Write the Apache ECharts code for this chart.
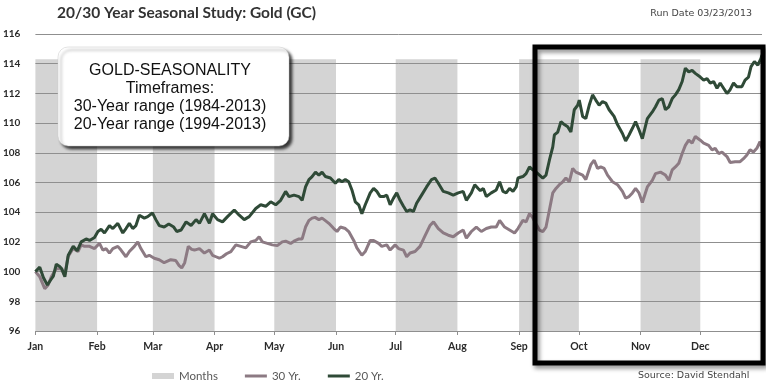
<!DOCTYPE html>
<html><head><meta charset="utf-8">
<script src="https://cdn.jsdelivr.net/npm/echarts@6/dist/echarts.min.js"></script>
<style>html,body{margin:0;padding:0;background:#fff}#c{width:766px;height:384px}</style>
</head><body><div id="c"></div>
<script>
const titleText = '20/30 Year Seasonal Study: Gold (GC)';
const runDateText = 'Run Date 03/23/2013';
const sourceText = 'Source: David Stendahl';
const boxLines = ['GOLD-SEASONALITY', 'Timeframes:', '30-Year range (1984-2013)', '20-Year range (1994-2013)'];
const monthNames = ['Jan','Feb','Mar','Apr','May','Jun','Jul','Aug','Sep','Oct','Nov','Dec'];
const monthStarts = [0,31,59,90,120,151,181,212,243,273,304,334];
const shadedMonths = [[0,31],[59,90],[120,151],[181,212],[243,273],[304,334]];
const bandTop = 114.3;
const yMin = 96, yMax = 116, yStep = 2;

const days20 = [0,2.2,4,6,8,9,10.5,12.2,13.2,14.8,
16.5,19,21,23,25.5,27.2,29.7,31.4,33,34.7,
37.2,38.9,41.4,43.9,45.5,47.2,48.9,50.5,52.2,54.7,
56.4,58.8,60.5,62.2,64.7,67,69.5,71,73.2,75.7,
78.2,80.7,82.4,84.9,87.4,89,91.5,94,96.5,99.9,
102.4,104.9,107.4,110.7,113.2,115.7,118.2,120.7,123.2,125.7,
127.4,129.9,132.4,134,135.7,137.4,139,140.7,142.4,144,
145.7,148.2,150.7,152.4,154,155.7,157.4,159,160.7,162.4,
164,165.7,168.2,169.9,171.5,173.2,174.9,176.5,178.2,179.9,
181.5,183.2,184.9,186.5,188.2,189.9,191.5,194,196.5,199,
200.7,202.4,204.9,207.4,209.9,212.4,214.9,216.5,219,220.7,
222.4,223.5,225,226.5,229,231.5,233.2,234.9,236.5,238.2,
239.9,241.5,242.4,244.9,246.5,248.2,249.9,251.5,253.2,254.9,
256.5,258.2,259.9,260.7,262.4,264,265.7,267.4,269,270.7,
272.4,273.2,274.9,276.5,278.2,279.9,281.5,283.2,284.9,286.5,
288.2,290.7,292.4,294.9,296.5,298.2,299.9,301.5,303.2,304.9,
307.4,309.9,311.5,313.2,314.9,316.5,318.2,319.9,321.5,323.2,
324.9,326.5,328.2,329.9,331.5,334,335.7,337.4,339,340.7,
342.4,344,345.7,347.4,349,350.7,352.4,354.9,356.5,358.2,
359.5,361.2,362.9,364.5,365];
const gold20 = [100.0,100.3,99.6,99.1,99.5,99.7,100.5,100.35,100.2,99.65,
101.1,101.7,101.4,102.0,102.2,102.1,102.3,102.7,102.85,102.6,
103.1,102.9,103.25,102.6,102.9,103.25,102.9,103.1,103.8,103.6,
103.7,103.95,103.5,103.1,103.0,103.2,103.0,102.7,102.8,103.35,
103.1,103.5,103.25,103.9,103.25,103.9,103.5,103.35,103.7,104.15,
103.8,103.5,103.7,104.25,104.5,104.4,104.7,104.5,104.8,105.4,
105.05,105.15,105.05,104.8,105.7,106.2,106.4,106.7,106.5,106.7,
106.4,106.3,105.95,106.2,106.05,106.2,106.05,105.5,104.7,104.5,
103.9,104.5,105.3,105.6,105.4,105.05,105.05,105.15,104.5,104.95,
105.3,104.8,104.4,104.05,104.15,104.05,104.6,105.15,105.7,106.2,
106.3,105.95,105.4,105.3,105.15,105.3,105.4,104.8,105.3,105.85,
105.6,105.45,105.6,105.05,105.3,105.5,106.05,105.4,105.3,105.6,
105.4,105.7,106.3,106.4,106.6,107.05,106.85,106.7,106.5,106.3,
106.5,107.5,108.4,109.2,109.4,110.1,109.9,109.75,109.4,110.9,
111.2,111.55,110.45,110.3,111.2,111.9,111.55,111.2,111.45,111.35,
110.9,110.45,109.9,109.3,108.8,109.2,109.65,110.1,109.55,108.95,
110.3,110.75,111.1,111.55,111.65,110.9,111.1,111.65,111.9,112.25,
112.8,113.7,113.45,113.55,113.35,113.1,112.9,113.0,112.7,112.8,
112.35,112.7,112.35,112.0,112.25,112.7,112.45,112.45,112.9,113.1,
113.8,114.15,113.9,114.35,114.6];

const days30 = [0,2.2,4.7,6.4,8,10.5,13,14.7,16.4,18.9,
21.4,23,24.7,27.2,29.7,32.2,33.9,35.5,37.2,38.9,
41.4,43,45.5,47.2,49.7,51.4,53,55.5,57.2,59.7,
62.2,64.7,68,70.5,72.2,73.5,75,76.8,78.5,79.9,
82.4,84.9,87.4,89,90.7,92.4,94,96,98.2,100.7,
103.2,105.7,108.2,110.7,112.4,114,116.5,119,121.5,124,
125.7,128.2,129.9,132.4,134,135.7,137.4,139,140.5,142.4,
144,145.5,147.4,149.9,151.5,153.2,155.7,157.4,159.9,161.5,
164,165.7,168.2,169.9,172.4,174,176.5,178.2,180.7,182.4,
184.9,186.5,188.2,190.7,193.2,195.7,198.2,200,202.4,204.9,
207.4,209.9,212.4,214.9,216.5,219,221.5,224,226.5,229,
231.5,233.2,235.7,238.2,240.7,242.4,244.9,246.5,248.2,249.5,
251.5,253.2,254.9,256.5,258.2,259.9,261.5,263.2,264.9,266.5,
268.2,269.9,271.5,273.2,274.9,276.5,279,280.7,282.4,284,
285.7,287.4,289.9,292.4,294.9,296.5,298.2,299.9,301.5,303.2,
304.9,307.4,309.9,311.5,314,316.5,318.2,319.9,321.5,323.2,
324.9,326.5,328.2,329.9,331.5,334,335.7,338.2,339.9,341.5,
343.2,344.9,347.4,349,351.5,354,355.7,357.4,359,360.7,
362.4,364,365];
const gold30 = [100.0,99.65,98.85,99.1,99.65,100.2,100.2,99.75,101.0,101.55,
101.35,101.8,101.7,101.7,101.55,101.9,101.45,101.55,101.25,101.55,
101.7,101.45,101.0,101.35,101.7,102.0,101.55,101.0,101.1,100.9,
100.8,100.6,100.8,100.75,100.4,100.25,100.6,101.7,101.5,101.45,
101.55,101.25,101.45,101.1,101.0,100.9,101.0,101.2,101.35,101.8,
101.7,101.6,102.0,102.1,102.35,102.0,101.9,101.8,101.75,102.0,
102.05,101.9,102.05,102.2,102.2,103.0,103.45,103.6,103.65,103.5,
103.6,103.45,103.25,102.9,102.7,103.0,102.9,102.7,102.1,101.6,
101.1,101.35,102.1,102.1,101.9,101.7,101.8,101.45,101.8,101.55,
101.45,101.0,101.25,101.35,101.7,102.4,103.1,103.35,102.9,102.6,
102.45,102.35,102.6,102.8,102.25,102.7,103.0,102.7,102.9,103.0,
103.0,103.45,103.0,102.8,102.6,102.9,103.45,103.35,103.9,103.7,
103.2,102.8,102.7,103.0,104.15,105.3,105.6,105.85,106.05,106.3,
106.05,106.95,106.7,106.6,106.5,106.2,107.2,107.5,106.95,107.05,
106.95,106.5,106.05,105.85,105.4,104.95,105.05,105.3,105.6,105.3,
104.65,105.7,106.15,106.6,106.7,106.5,106.15,106.85,107.05,107.3,
107.95,108.5,108.85,108.65,109.1,108.85,108.65,108.5,108.2,108.3,
107.95,108.05,107.75,107.35,107.4,107.4,107.6,107.85,108.2,108.05,
108.3,108.75,108.3];

const pair = (xs, ys) => xs.map((x, i) => [x, ys[i]]);
const lineIcon = 'path://M0,0H22V3H0Z';

const chart = echarts.init(document.getElementById('c'));
const labelFont = 'Lato';
chart.setOption({
  animation: false,
  backgroundColor: '#fff',
  grid: { left: 32, right: 4, top: 34, bottom: 53 },
  xAxis: {
    type: 'value', min: 0, max: 365, z: 2,
    axisLine: { lineStyle: { color: '#8f8f8f', width: 1 } },
    axisTick: { customValues: monthStarts, length: 4, lineStyle: { color: '#8f8f8f' } },
    axisLabel: { customValues: monthStarts, formatter: v => monthNames[monthStarts.indexOf(v)],
      fontFamily: labelFont, fontWeight: 'bold', fontSize: 10.5, color: '#2b2b2b', margin: 10 },
    splitLine: { show: false }
  },
  yAxis: {
    type: 'value', min: yMin, max: yMax, interval: yStep, z: 2,
    axisLine: { show: false }, axisTick: { show: false },
    splitLine: { lineStyle: { color: '#8f8f8f', width: 1 } },
    axisLabel: { fontFamily: labelFont, fontWeight: 'bold', fontSize: 10, color: '#2b2b2b', margin: 15 }
  },
  legend: {
    left: 147, top: 365, itemWidth: 22, itemHeight: 6, itemGap: 27, symbolKeepAspect: true,
    textStyle: { fontFamily: labelFont, fontSize: 11.5, color: '#595959' },
    data: [
      { name: 'Months', icon: 'rect', itemStyle: { color: '#d4d4d4' } },
      { name: '30 Yr.', icon: lineIcon, itemStyle: { color: '#8c7a83' } },
      { name: '20 Yr.', icon: lineIcon, itemStyle: { color: '#2f4a37' } }
    ]
  },
  series: [
    { name: 'Months', type: 'line', data: [], z: 1, color: '#d4d4d4', symbol: 'none',
      markArea: { silent: true, itemStyle: { color: '#d4d4d4' },
        data: shadedMonths.map(([a, b]) => [{ xAxis: a, yAxis: yMin }, { xAxis: b, yAxis: bandTop }]) } },
    { name: '30 Yr.', type: 'line', data: pair(days30, gold30), z: 3, symbol: 'none', color: '#8c7a83',
      lineStyle: { width: 3, color: '#8c7a83' } },
    { name: '20 Yr.', type: 'line', data: pair(days20, gold20), z: 4, symbol: 'none', color: '#2f4a37',
      lineStyle: { width: 3, color: '#2f4a37' } }
  ],
  graphic: [
    { type: 'text', left: 57, top: 5, style: { text: titleText, font: 'bold 15.5px Lato', fill: '#333' } },
    { type: 'text', right: 14, top: 9, style: { text: runDateText, font: '9.5px "DejaVu Sans"', fill: '#444' } },
    { type: 'text', left: 638, top: 371, style: { text: sourceText, font: '9.5px "DejaVu Sans"', fill: '#444' } },
    { type: 'rect', z: 100, shape: { x: 58, y: 47, width: 231, height: 99, r: 10 },
      style: { fill: '#fff', stroke: '#c8c8c8', lineWidth: 0.5, shadowBlur: 3, shadowOffsetX: 3, shadowOffsetY: 3, shadowColor: 'rgba(0,0,0,0.75)' } },
    ...boxLines.map((t, i) => ({ type: 'text', z: 101, x: 170, y: 71 + i * 18,
      style: { text: t, font: '16px "Liberation Sans"', fill: '#111', align: 'center', verticalAlign: 'middle' } })),
    { type: 'rect', z: 100, shape: { x: 535, y: 47, width: 228, height: 316 },
      style: { fill: null, stroke: '#000', lineWidth: 5, shadowBlur: 4, shadowOffsetX: 2, shadowOffsetY: 3, shadowColor: 'rgba(0,0,0,0.45)' } }
  ]
});
</script></body></html>
